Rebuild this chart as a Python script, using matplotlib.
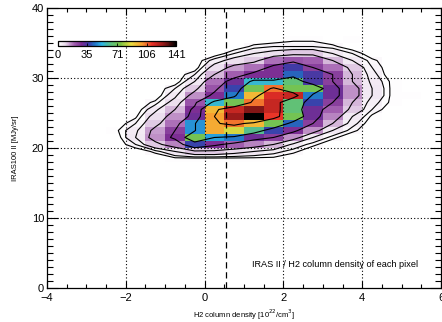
import numpy as np
import matplotlib
matplotlib.use("Agg")
import matplotlib.pyplot as plt
from matplotlib.colors import LinearSegmentedColormap

plt.rcParams['font.family'] = ['Liberation Sans', 'DejaVu Sans']

# bin edges of the 2D histogram (x: H2 column density, y: IRAS100 II)
x_edges = [-2.5, -2.0, -1.5, -1.0, -0.5, 0.0, 0.5, 1.0, 1.5,
           2.0, 2.5, 3.0, 3.5, 4.0, 4.5, 5.0, 5.5]
y_edges = [17, 18, 19, 20, 21, 22, 23, 24, 25, 26, 27,
           28, 29, 30, 31, 32, 33, 34, 35, 36]

# pixel counts per bin, one row per y bin (bottom -> top)
counts = [
    [0, 0, 0, 0, 0, 0, 0, 0, 0, 0, 0, 0, 0, 0, 0, 0],
    [0, 0, 0, 1, 1, 1, 1, 1, 1, 0, 0, 0, 0, 0, 0, 0],
    [0, 0, 2, 6, 10, 10, 8, 6, 4, 2, 0, 0, 0, 0, 0, 0],
    [0, 3, 10, 16, 38, 28, 20, 16, 12, 5, 2, 0, 0, 0, 0, 0],
    [0, 6, 15, 28, 72, 50, 45, 30, 25, 15, 6, 2, 0, 0, 0, 0],
    [1, 5, 14, 25, 48, 98, 85, 62, 38, 28, 15, 6, 2, 0, 0, 0],
    [0, 3, 10, 18, 48, 98, 105, 95, 72, 42, 25, 12, 4, 0, 0, 0],
    [0, 1, 8, 15, 30, 100, 125, 141, 112, 72, 30, 16, 6, 1, 0, 0],
    [0, 0, 5, 12, 28, 95, 118, 128, 118, 65, 30, 20, 10, 3, 0, 0],
    [0, 0, 2, 8, 22, 55, 72, 105, 118, 65, 38, 25, 12, 4, 1, 0],
    [0, 0, 0, 5, 15, 28, 45, 95, 115, 118, 45, 30, 15, 6, 1, 1],
    [0, 0, 0, 3, 10, 22, 38, 72, 105, 72, 72, 30, 15, 6, 1, 0],
    [0, 0, 0, 0, 6, 18, 30, 55, 55, 65, 35, 25, 12, 5, 1, 0],
    [0, 0, 0, 0, 3, 12, 20, 28, 28, 42, 35, 25, 12, 4, 0, 0],
    [0, 0, 0, 0, 0, 8, 14, 18, 28, 36, 25, 18, 10, 3, 0, 0],
    [0, 0, 0, 0, 0, 4, 8, 10, 18, 22, 20, 12, 6, 2, 0, 0],
    [0, 0, 0, 0, 0, 0, 3, 6, 8, 10, 10, 6, 3, 0, 0, 0],
    [0, 0, 0, 0, 0, 0, 0, 2, 3, 3, 3, 2, 0, 0, 0, 0],
    [0, 0, 0, 0, 0, 0, 0, 0, 0, 1, 1, 0, 1, 0, 0, 0],
]

cbar_ticks = [0, 35, 71, 106, 141]
contour_levels = [1.5, 3, 6, 12, 25, 50, 100]
x_dashed = 0.55

# IDL-like colour table, white -> purple -> blue -> green -> yellow -> red -> black
cmap = LinearSegmentedColormap.from_list('idl', [
    (0.00, '#ffffff'), (0.06, '#eadcec'), (0.13, '#a868b4'),
    (0.20, '#7a2c92'), (0.26, '#3c3ca8'), (0.31, '#2270c4'),
    (0.37, '#2cb4e6'), (0.45, '#5cc080'), (0.53, '#7cc444'),
    (0.62, '#e8dc40'), (0.71, '#f8a030'), (0.80, '#e83028'),
    (0.90, '#901818'), (1.00, '#000000')])

H = np.ma.masked_equal(np.array(counts, dtype=float), 0)

fig = plt.figure(figsize=(4.42, 3.22), dpi=100)
ax = fig.add_axes([0.106, 0.106, 0.892, 0.869])

mesh = ax.pcolormesh(x_edges, y_edges, H, cmap=cmap, vmin=0, vmax=141)

# contours on the bin centres, padded with empty bins
xc = 0.5 * (np.array(x_edges[:-1]) + np.array(x_edges[1:]))
yc = 0.5 * (np.array(y_edges[:-1]) + np.array(y_edges[1:]))
Z = np.pad(np.array(counts, dtype=float), 1)
xp = np.concatenate([[xc[0] - 0.5], xc, [xc[-1] + 0.5]])
yp = np.concatenate([[yc[0] - 1], yc, [yc[-1] + 1]])
ax.contour(xp, yp, Z, levels=contour_levels, colors='k', linewidths=0.8)

for gx in [-2, 0, 2, 4]:
    ax.axvline(gx, color='k', lw=0.8, ls=(0, (1, 2)))
for gy in [10, 20, 30]:
    ax.axhline(gy, color='k', lw=0.8, ls=(0, (1, 2)))
ax.axvline(x_dashed, color='k', lw=0.9, ls=(0, (5, 3)))

ax.set_xlim(-4, 6)
ax.set_ylim(0, 40)
ax.set_xticks([-4, -2, 0, 2, 4, 6])
ax.set_xticks(np.arange(-4, 6.01, 0.5), minor=True)
ax.set_yticks([0, 10, 20, 30, 40])
ax.set_yticks(np.arange(0, 40.1, 1), minor=True)
ax.tick_params(which='both', direction='in', top=True, right=True,
               labelsize=8, width=0.8)
ax.tick_params(axis='x', which='major', length=5, pad=4)
ax.tick_params(axis='x', which='minor', length=2.8)
ax.tick_params(axis='y', which='major', length=8, pad=2)
ax.tick_params(axis='y', which='minor', length=4.5)
for s in ax.spines.values():
    s.set_linewidth(0.9)

ax.set_xlabel('H2 column density [10$^{22}$/cm$^3$]', fontsize=5.5, labelpad=3)
ax.set_ylabel('IRAS100 II [MJy/sr]', fontsize=5.5, labelpad=9)
ax.text(1.2, 3.4, 'IRAS II / H2 column density of each pixel', fontsize=6.6,
        va='center')

cax = fig.add_axes([0.131, 0.857, 0.267, 0.017])
cb = fig.colorbar(mesh, cax=cax, orientation='horizontal', ticks=cbar_ticks)
cb.outline.set_linewidth(0.9)
cax.tick_params(labelsize=8, length=2, direction='in', pad=3, width=0.6)

fig.savefig('out.png', dpi=100)
